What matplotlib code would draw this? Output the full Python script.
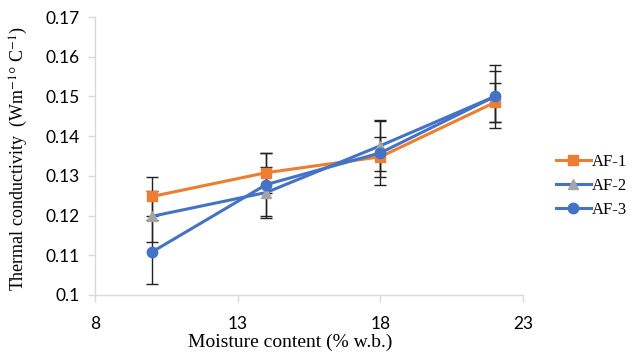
import matplotlib.pyplot as plt

# moisture content (% w.b.)
moisture = [10, 14, 18, 22]

# thermal conductivity per sample
af1 = [0.1248, 0.1308, 0.1348, 0.1485]
af2 = [0.1198, 0.1258, 0.1376, 0.1500]
af3 = [0.1108, 0.1278, 0.1358, 0.1500]

# error bar half-widths
err1 = 0.005
err2 = 0.0065
err3 = 0.008

labels = ["AF-1", "AF-2", "AF-3"]
x_ticks = [8, 13, 18, 23]
y_ticks = [0.1, 0.11, 0.12, 0.13, 0.14, 0.15, 0.16, 0.17]
y_tick_labels = ["0.1", "0.11", "0.12", "0.13", "0.14", "0.15", "0.16", "0.17"]

plt.rcParams['mathtext.fontset'] = 'stix'

fig = plt.figure(figsize=(6.32, 3.57), dpi=100)
ax = fig.add_axes([0.150, 0.174, 0.678, 0.778])

orange = "#ED7D31"
blue = "#4472C4"
grey = "#A5A5A5"

series = [
    (af1, err1, orange, "s", orange, 7),
    (af2, err2, blue, "^", grey, 6.5),
    (af3, err3, blue, "o", blue, 7.5),
]

handles = []
for (vals, err, lc, mk, mc, ms), lab in zip(series, labels):
    ax.errorbar(moisture, vals, yerr=err, fmt="none", ecolor="#222222",
                elinewidth=1, capsize=4, capthick=1, zorder=2)
    h, = ax.plot(moisture, vals, color=lc, lw=2.2, marker=mk, ms=ms,
                 markerfacecolor=mc, markeredgecolor=mc, label=lab, zorder=3)
    handles.append(h)

ax.set_xlim(8, 23)
ax.set_ylim(0.1, 0.17)
ax.set_xticks(x_ticks)
ax.set_yticks(y_ticks)
ax.set_yticklabels(y_tick_labels)

for s in ["top", "right"]:
    ax.spines[s].set_visible(False)
for s in ["left", "bottom"]:
    ax.spines[s].set_color("#D9D9D9")
    ax.spines[s].set_linewidth(1)
ax.tick_params(axis="both", colors="#D9D9D9", length=5, width=1,
               labelcolor="#000000", labelsize=12.5)
ax.tick_params(axis="x", pad=10)
ax.tick_params(axis="y", pad=6)
for t in ax.get_xticklabels() + ax.get_yticklabels():
    t.set_fontfamily("Lato")

fig.text(0.459, 0.04, "Moisture content (% w.b.)", ha="center", va="center",
         fontsize=14, family="Liberation Serif")
fig.text(0.03, 0.555, r"Thermal conductivity  (Wm$^{-1}$° C$^{-1}$)",
         rotation=90, ha="center", va="center", fontsize=13,
         family="Liberation Serif")

fig.legend(handles=handles, labels=labels, loc="center left",
           bbox_to_anchor=(0.879, 0.479), frameon=False, handlelength=2.1,
           handletextpad=0.05, labelspacing=0.5, borderpad=0, borderaxespad=0,
           prop={"family": "Liberation Serif", "size": 12})

fig.savefig("out.png", dpi=100)
